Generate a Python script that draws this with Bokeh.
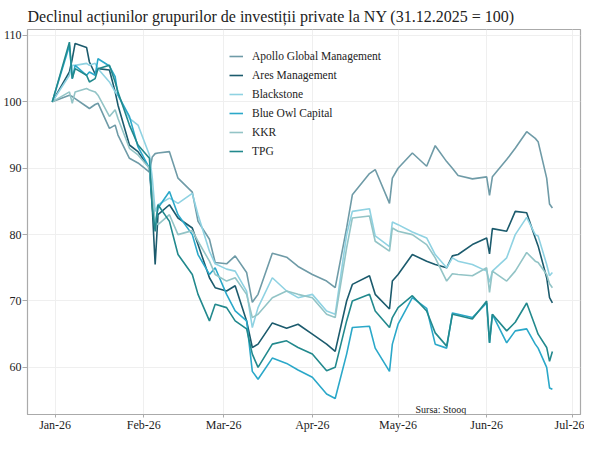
import pandas as pd
from bokeh.plotting import figure
from bokeh.models import ColumnDataSource, FixedTicker, DatetimeTickFormatter, Legend, LegendItem, Label, Range1d
from bokeh.embed import file_html
from bokeh.resources import INLINE

dates = ["2025-12-31", "2026-01-06", "2026-01-07", "2026-01-08", "2026-01-12", "2026-01-13",
         "2026-01-15", "2026-01-16", "2026-01-20", "2026-01-22", "2026-01-23", "2026-01-27",
         "2026-01-30", "2026-02-03", "2026-02-04", "2026-02-05", "2026-02-06", "2026-02-10",
         "2026-02-13", "2026-02-18", "2026-02-20", "2026-02-24", "2026-02-26", "2026-03-02",
         "2026-03-05", "2026-03-09", "2026-03-11", "2026-03-13", "2026-03-18", "2026-03-23",
         "2026-03-27", "2026-04-01", "2026-04-06", "2026-04-09", "2026-04-13", "2026-04-15",
         "2026-04-21", "2026-04-23", "2026-04-28", "2026-04-29", "2026-05-01", "2026-05-06",
         "2026-05-11", "2026-05-14", "2026-05-18", "2026-05-20", "2026-05-22", "2026-05-27",
         "2026-06-01", "2026-06-02", "2026-06-03", "2026-06-08", "2026-06-11", "2026-06-15",
         "2026-06-18", "2026-06-19", "2026-06-22", "2026-06-23", "2026-06-24"]

apollo = [100, 101.0, 100.8, 100.5, 99.3, 99.0, 99.6, 99.8, 96.0, 96.5, 95.0, 91.5,
          90.8, 89.4, 91.7, 92.2, 92.3, 92.5, 88.5, 86.4, 82.0, 79.3, 75.8, 75.6,
          76.8, 74.3, 69.8, 71.0, 77.2, 76.6, 75.2, 74.0, 73.0, 72.0, 81.0, 86.0,
          89.2, 89.8, 84.7, 88.5, 90.0, 92.3, 90.3, 93.4, 91.0, 90.0, 88.9, 88.4,
          88.7, 85.9, 88.7, 91.3, 93.0, 95.5, 94.5, 94.0, 88.5, 84.6, 84.0]

ares = [100, 104.5, 106.5, 108.8, 108.2, 106.0, 104.2, 105.0, 104.8, 101.5, 99.5, 93.5,
        92.5, 90.0, 84.0, 75.5, 83.0, 84.5, 82.5, 81.0, 78.5, 73.5, 72.0, 71.5,
        72.3, 67.0, 63.0, 63.5, 66.7, 65.9, 66.5, 65.0, 63.5, 62.4, 70.0, 72.5,
        73.8, 71.0, 68.8, 73.0, 74.0, 77.0, 76.0, 75.5, 75.0, 76.8, 77.0, 78.5,
        79.5, 77.1, 80.9, 80.5, 83.5, 83.3, 79.5, 78.3, 73.5, 70.5, 69.7]

blackstone = [100, 104.0, 105.5, 105.5, 105.8, 105.5, 105.8, 105.0, 103.0, 101.5, 101.0, 97.5,
              96.5, 92.0, 88.5, 83.5, 84.5, 85.5, 84.7, 86.2, 83.0, 77.5, 75.6, 74.8,
              74.5, 71.5, 66.0, 69.0, 73.5, 71.5, 70.5, 71.0, 68.5, 68.0, 80.0, 83.5,
              83.9, 79.8, 78.2, 81.9, 81.5, 80.4, 79.5, 77.0, 75.0, 76.5, 76.0, 75.5,
              74.5, 72.8, 74.5, 76.5, 80.0, 82.6, 80.0, 79.8, 75.5, 73.8, 74.3]

blue_owl = [100, 108.5, 103.5, 105.5, 104.0, 104.5, 104.0, 106.5, 105.4, 103.8, 101.0, 97.8,
            93.2, 90.0, 85.0, 81.5, 84.0, 86.5, 83.0, 80.0, 77.0, 74.0, 75.0, 71.0,
            68.5, 67.0, 59.4, 58.2, 61.4, 60.6, 59.6, 58.5, 56.0, 55.3, 62.0, 66.0,
            66.2, 62.9, 59.4, 63.5, 66.5, 70.5, 68.9, 63.5, 62.9, 68.2, 68.0, 67.5,
            69.7, 63.7, 68.0, 63.7, 65.5, 65.8, 63.5, 62.9, 60.0, 56.9, 56.7]

kkr = [100, 101.5, 99.8, 101.5, 102.0, 101.8, 101.5, 101.0, 97.8, 98.8, 97.5, 93.0,
       92.0, 90.0, 86.0, 82.0, 81.5, 83.0, 80.0, 80.6, 79.0, 76.0, 74.0, 73.0,
       73.5, 71.0, 67.5, 68.0, 70.5, 71.5, 71.0, 70.5, 68.0, 67.5, 78.0, 82.5,
       82.8, 79.0, 77.5, 81.0, 80.5, 80.0, 78.5, 76.5, 73.0, 74.1, 74.0, 73.8,
       75.0, 71.3, 74.5, 73.0, 74.5, 77.3, 76.0, 75.8, 74.0, 72.6, 72.0]

tpg = [100, 109.0, 103.5, 105.0, 104.0, 103.0, 103.5, 105.0, 105.5, 103.0, 101.5, 96.5,
       93.5, 91.5, 84.0, 80.5, 84.5, 82.0, 77.0, 74.0, 71.0, 67.0, 69.5, 69.0,
       67.0, 65.8, 62.0, 60.0, 63.5, 64.0, 63.0, 62.0, 59.5, 60.0, 67.0, 70.0,
       71.0, 68.5, 66.0, 67.5, 69.0, 70.8, 68.5, 65.2, 63.2, 68.0, 67.8, 67.3,
       70.0, 63.7, 68.0, 65.5, 66.8, 69.7, 66.2, 65.0, 63.0, 60.9, 62.4]

names = ["Apollo Global Management", "Ares Management", "Blackstone", "Blue Owl Capital", "KKR", "TPG"]
series = [apollo, ares, blackstone, blue_owl, kkr, tpg]
colors = ["#6f9ba7", "#1c5b6d", "#8fd2e2", "#2ba8c9", "#93c4c6", "#22898d"]

tick_dates = ["2026-01-01", "2026-02-01", "2026-03-01", "2026-04-01", "2026-05-01", "2026-06-01", "2026-07-01"]
y_ticks = [60, 70, 80, 90, 100, 110]

FONT = "Liberation Serif"

data = {"date": pd.to_datetime(dates)}
for i, s in enumerate(series):
    data[f"s{i}"] = s
source = ColumnDataSource(data)

p = figure(width=584, height=434, x_axis_type="datetime", output_backend="svg",
           toolbar_location=None, min_border_left=23, min_border_right=4,
           min_border_top=0, min_border_bottom=0,
           x_range=Range1d(pd.Timestamp("2025-12-22 08:00"), pd.Timestamp("2026-07-03 20:00")),
           y_range=Range1d(52.9, 110.9))

p.title.text = "Declinul acțiunilor grupurilor de investiții private la NY (31.12.2025 = 100)"
p.title.text_font = FONT
p.title.text_font_size = "16px"
p.title.text_font_style = "normal"
p.title.text_color = "#222222"
p.title.offset = 0
p.title.standoff = 10

items = []
for i, (n, c) in enumerate(zip(names, colors)):
    r = p.line("date", f"s{i}", source=source, line_color=c, line_width=1.6)
    items.append(LegendItem(label=n, renderers=[r]))

legend = Legend(items=items, location=(193, 245), margin=0, padding=9,
                background_fill_alpha=0, border_line_alpha=0,
                label_text_font=FONT, label_text_font_size="11.5px", label_text_color="#222222",
                glyph_width=14, glyph_height=18, label_height=18, spacing=1, label_standoff=9)
p.add_layout(legend)

ticks_ms = [pd.Timestamp(d).value // 10**6 for d in tick_dates]
p.xaxis.ticker = FixedTicker(ticks=ticks_ms)
p.xaxis.formatter = DatetimeTickFormatter(days="%b-%y", months="%b-%y", years="%b-%y",
                                          hours="%b-%y", minutes="%b-%y")
p.yaxis.ticker = FixedTicker(ticks=y_ticks)

for ax in [p.xaxis, p.yaxis]:
    ax.major_label_text_font = FONT
    ax.major_label_text_font_size = "12px"
    ax.major_label_text_color = "#222222"
    ax.axis_line_color = "#aaaaaa"
    ax.major_tick_line_color = "#aaaaaa"
    ax.minor_tick_line_color = None
    ax.major_tick_in = 0

p.xaxis.major_tick_out = 3
p.xaxis.major_label_standoff = 0
p.yaxis.major_tick_out = 5
p.yaxis.major_label_standoff = 1

p.xgrid.grid_line_color = "#efefef"
p.ygrid.grid_line_color = "#efefef"
p.outline_line_color = "#aaaaaa"
p.outline_line_width = 1.2

src = Label(x=pd.Timestamp("2026-05-16").value // 10**6, y=53.6, text="Sursa: Stooq",
            text_font=FONT, text_font_size="10px", text_color="#222222",
            text_align="center", text_baseline="middle")
p.add_layout(src)

open("out.html", "w").write(file_html(p, INLINE))
